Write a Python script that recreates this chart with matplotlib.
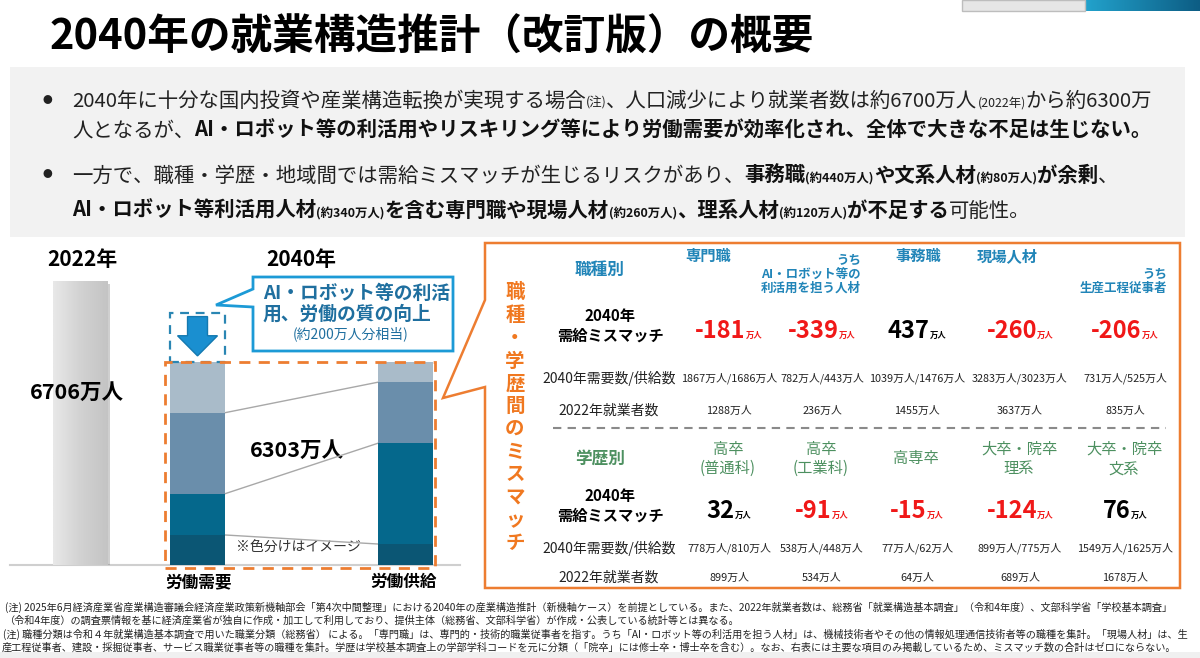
import matplotlib
matplotlib.use('Agg')
import matplotlib.pyplot as plt
import matplotlib.patches as mpatches
import matplotlib.patheffects as pe
from matplotlib.colors import LinearSegmentedColormap
import numpy as np

plt.rcParams['font.family'] = ['Noto Sans CJK JP', 'DejaVu Sans']

# ---- データ ----
title = "2040年の就業構造推計（改訂版）の概要"
employed_2022 = 6706
employed_2040 = 6303
# 2040年の棒は模式図（※色分けはイメージ）: 下から順の区分の見た目の高さ
demand_image = [710, 970, 1915, 1205]
supply_image = [495, 2385, 1440, 470]
saving_image = 1160  # AI・ロボット等による効率化（約200万人分相当）の枠

job_heads = ["専門職", "うち\nAI・ロボット等の\n利活用を担う人材", "事務職", "現場人材", "うち\n生産工程従事者"]
job_gap = [-181, -339, 437, -260, -206]
job_demand = [1867, 782, 1039, 3283, 731]
job_supply = [1686, 443, 1476, 3023, 525]
job_2022 = [1288, 236, 1455, 3637, 835]

edu_heads = ["高卒\n(普通科)", "高卒\n(工業科)", "高専卒", "大卒・院卒\n理系", "大卒・院卒\n文系"]
edu_gap = [32, -91, -15, -124, 76]
edu_demand = [778, 538, 77, 899, 1549]
edu_supply = [810, 448, 62, 775, 1625]
edu_2022 = [899, 534, 64, 689, 1678]

notes = [
    "(注) 2025年6月経済産業省産業構造審議会経済産業政策新機軸部会「第4次中間整理」における2040年の産業構造推計（新機軸ケース）を前提としている。また、2022年就業者数は、総務省「就業構造基本調査」（令和4年度）、文部科学省「学校基本調査」",
    "（令和4年度）の調査票情報を基に経済産業省が独自に作成・加工して利用しており、提供主体（総務省、文部科学省）が作成・公表している統計等とは異なる。",
    "(注) 職種分類は令和４年就業構造基本調査で用いた職業分類（総務省） による。「専門職」は、専門的・技術的職業従事者を指す。うち「AI・ロボット等の利活用を担う人材」は、機械技術者やその他の情報処理通信技術者等の職種を集計。「現場人材」は、生",
    "産工程従事者、建設・採掘従事者、サービス職業従事者等の職種を集計。学歴は学校基本調査上の学部学科コードを元に分類（「院卒」には修士卒・博士卒を含む）。なお、右表には主要な項目のみ掲載しているため、ミスマッチ数の合計はゼロにならない。",
]

BLUE = '#2185b8'
GREEN = '#4d9060'
RED = '#f01818'
ORANGE = '#ed7d31'
segs = ['#0b5674', '#05688c', '#6a8eab', '#a9bbc9']

fig = plt.figure(figsize=(12, 6.58), dpi=100)
bg = fig.add_axes([0, 0, 1, 1])
bg.set_xlim(0, 1200)
bg.set_ylim(658, 0)
bg.axis('off')
R = fig.canvas.get_renderer()


def runs(x, y, parts, ha='left', width=None, scale=1.0, **common):
    # 書式の違う文字列を横に並べる
    ts = []
    for s, kw in parts:
        d = dict(common)
        d.update(kw)
        d['fontsize'] = d.get('fontsize', 10) * scale
        ts.append(bg.text(x, y, s, va='baseline', ha='left', **d))
    w = [t.get_window_extent(R).width for t in ts]
    f = 1.0
    if width:
        f = width / sum(w)
        for t in ts:
            t.set_fontsize(t.get_fontsize() * f)
        w = [t.get_window_extent(R).width for t in ts]
    total = sum(w)
    x0 = {'left': x, 'center': x - total / 2, 'right': x - total}[ha]
    for t, wi in zip(ts, w):
        t.set_x(x0)
        x0 += wi
    return f * scale


# 背景の飾り
bg.add_patch(mpatches.Rectangle((962, 0), 123, 11, fc='#e6e6e6', ec='#bdbdbd', lw=1))
grad = np.linspace(0, 1, 100)[None, :]
bg.imshow(grad, extent=[1085, 1200, 11, 0], aspect='auto',
          cmap=LinearSegmentedColormap.from_list('t', ['#22a2cc', '#0d5d84']))
bg.set_xlim(0, 1200)
bg.set_ylim(658, 0)
bg.add_patch(mpatches.Rectangle((10, 67), 1175, 170, fc='#f2f2f2', ec='none'))
bg.add_patch(mpatches.Rectangle((0, 652), 1200, 6, fc='#f0f0f0', ec='none'))

bg.text(50, 38, title, fontsize=30, fontweight='bold', va='center', ha='left', color='black')

# 箇条書き
N = dict(fontsize=14, color='#222222')
S = dict(fontsize=8.5, color='#222222')
B = dict(fontsize=14, fontweight='bold', color='#111111')
SB = dict(fontsize=8.5, fontweight='bold', color='#111111')
for yy in (100, 174):
    bg.text(47, yy, "●", fontsize=7, va='center', ha='center', color='#222222')
k = runs(72, 107, [("2040年に十分な国内投資や産業構造転換が実現する場合", N), ("(注)", S),
                   ("、人口減少により就業者数は約6700万人", N), ("(2022年)", S), ("から約6300万", N)],
         width=1085)
runs(72, 137, [("人となるが、", N),
               ("AI・ロボット等の利活用やリスキリング等により労働需要が効率化され、全体で大きな不足は生じない。", B)], scale=k)
runs(72, 182, [("一方で、職種・学歴・地域間では需給ミスマッチが生じるリスクがあり、", N), ("事務職", B), ("(約440万人)", SB),
               ("や文系人材", B), ("(約80万人)", SB), ("が余剰", B), ("、", N)], scale=k)
runs(72, 217, [("AI・ロボット等利活用人材", B), ("(約340万人)", SB), ("を含む専門職や現場人材", B), ("(約260万人)", SB),
               ("、理系人材", B), ("(約120万人)", SB), ("が不足する", B), ("可能性。", N)], scale=k)

# ---- 左: 棒グラフ ----
bx = fig.add_axes([10 / 1200, 93 / 658, 450 / 1200, 315 / 658])
bx.patch.set_visible(False)
xpos = [0, 1, 2.77]
w = 0.46
shadow = [pe.withSimplePatchShadow(offset=(2, -2), shadow_rgbFace='#777777', alpha=0.35), pe.Normal()]

b22 = bx.bar(xpos[0], employed_2022, w, color='#d8d8d8', zorder=2, path_effects=shadow)
im = bx.imshow(np.linspace(0, 1, 50)[None, :], aspect='auto', zorder=3,
               extent=[xpos[0] - w / 2, xpos[0] + w / 2, 0, employed_2022],
               cmap=LinearSegmentedColormap.from_list('g', ['#e8e8e8', '#d2d2d2', '#c4c4c4']))
im.set_clip_path(b22[0])

bot_d = 0
bot_s = 0
for i in range(len(demand_image)):
    bx.bar(xpos[1], demand_image[i], w, bottom=bot_d, color=segs[i], zorder=2)
    bx.bar(xpos[2], supply_image[i], w, bottom=bot_s, color=segs[i], zorder=2)
    bot_d += demand_image[i]
    bot_s += supply_image[i]
cum_d = np.cumsum(demand_image)
cum_s = np.cumsum(supply_image)
for i in range(3):
    bx.plot([xpos[1] + w / 2, xpos[2] - w / 2], [cum_d[i], cum_s[i]], color='#a8a8a8', lw=1, zorder=1)

bx.set_xlim(-0.596, 3.234)
bx.set_ylim(0, 7440)
bx.axis('off')
bx.axhline(0, color='#cfcfcf', lw=1.5, clip_on=False, zorder=1)

# 効率化の枠と矢印
top_d = cum_d[-1]
bx.add_patch(mpatches.Rectangle((xpos[1] - w / 2, top_d), w, saving_image, fill=False,
                                ec='#2a86b3', lw=1.6, ls=(0, (4, 3)), zorder=3, clip_on=False))
cx = xpos[1]
yt = top_d + saving_image
arrow = [(cx - 0.085, yt - 0.08 * saving_image), (cx + 0.085, yt - 0.08 * saving_image),
         (cx + 0.085, yt - 0.47 * saving_image), (cx + 0.17, yt - 0.47 * saving_image),
         (cx, top_d + 0.12 * saving_image), (cx - 0.17, yt - 0.47 * saving_image),
         (cx - 0.085, yt - 0.47 * saving_image)]
bx.add_patch(mpatches.Polygon(arrow, closed=True, fc='#1a8fd0', ec='#1479b0', lw=1, zorder=4, clip_on=False))

# 2040年の棒を囲む橙の破線
ox0 = xpos[1] - w / 2 - 0.045
ox1 = xpos[2] + w / 2 + 0.025
top_all = max(cum_d[-1], cum_s[-1])
bx.add_patch(mpatches.Rectangle((ox0, -70), ox1 - ox0, top_all + 70, fill=False, ec=ORANGE,
                                lw=2, ls=(0, (4, 3)), zorder=5, clip_on=False))

bg.text(82, 259, "2022年", fontsize=15, fontweight='bold', ha='center', va='center')
bg.text(301, 259, "2040年", fontsize=15, fontweight='bold', ha='center', va='center')
# 棒の上に重ねるので bx 側に置く
bx.text(77, 392, f"{employed_2022}万人", transform=bg.transData, fontsize=15.5, fontweight='bold',
        ha='center', va='center', zorder=6, clip_on=False)
bg.text(297, 450, f"{employed_2040}万人", fontsize=15.5, fontweight='bold', ha='center', va='center')
bg.text(298, 548, "※色分けはイメージ", fontsize=10, ha='center', va='center', color='#333333')
bg.text(199, 582, "労働需要", fontsize=12, fontweight='bold', ha='center', va='center')
bg.text(404, 582, "労働供給", fontsize=12, fontweight='bold', ha='center', va='center')

# 吹き出し（AI・ロボット等）
bg.add_patch(mpatches.Polygon([(253, 277), (453, 277), (453, 351), (253, 351), (253, 307), (216, 305), (253, 289)],
                              closed=True, fc='white', ec='#1c9ad6', lw=2))
bg.text(263, 293, "AI・ロボット等の利活", fontsize=13.5, fontweight='bold', color='#1f6f9f', va='center')
bg.text(263, 314, "用、労働の質の向上", fontsize=13.5, fontweight='bold', color='#1f6f9f', va='center')
bg.text(351, 334, "(約200万人分相当)", fontsize=10, color='#1f6f9f', ha='center', va='center')

# ---- 右: ミスマッチ表 ----
bg.add_patch(mpatches.Polygon([(485, 243), (1180, 243), (1180, 588), (485, 588), (485, 387), (443, 398), (485, 300)],
                              closed=True, fc='white', ec=ORANGE, lw=1.8))
bg.text(515, 418, "\n".join("職種・学歴間のミスマッチ"), fontsize=14, fontweight='bold', color='#f07820',
        ha='center', va='center', linespacing=1.25)

col_x = [729, 822, 917, 1020, 1125]

bg.text(600, 270, "職種別", fontsize=12, fontweight='bold', color=BLUE, ha='center', va='center')
head_pos = [(708, 256, 'center'), (861, 274, 'right'), (918, 256, 'center'), (1007, 256, 'center'), (1167, 281, 'right')]
for h, (hx, hy, ha) in zip(job_heads, head_pos):
    fs = 11 if '\n' not in h else 9
    bg.text(hx, hy, h, fontsize=fs, fontweight='bold', color=BLUE, ha=ha, va='center',
            multialignment=ha, linespacing=1.1)

bg.text(600, 459, "学歴別", fontsize=12, fontweight='bold', color=GREEN, ha='center', va='center')
for h, hx in zip(edu_heads, col_x):
    bg.text(hx - 1, 459, h, fontsize=11, color=GREEN, ha='center', va='center', multialignment='center',
            linespacing=1.2)

for y_mis, y_dem, y_now, gap, dem, sup, now in [
        (326, 378, 411, job_gap, job_demand, job_supply, job_2022),
        (506, 548, 578, edu_gap, edu_demand, edu_supply, edu_2022)]:
    bg.text(610, y_mis, "2040年\n需給ミスマッチ", fontsize=11, fontweight='bold', ha='center', va='center',
            linespacing=1.25)
    bg.text(609, y_dem, "2040年需要数/供給数", fontsize=10, ha='center', va='center', color='#222222')
    bg.text(609, y_now, "2022年就業者数", fontsize=10, ha='center', va='center', color='#222222')
    for i, cxx in enumerate(col_x):
        c = RED if gap[i] < 0 else 'black'
        runs(cxx, y_mis + 12, [(f"{gap[i]}", dict(fontsize=17, fontweight='bold', color=c)),
                               ("万人", dict(fontsize=6, fontweight='bold', color=c))], ha='center')
        bg.text(cxx, y_dem, f"{dem[i]}万人/{sup[i]}万人", fontsize=7.8, ha='center', va='center', color='#222222')
        bg.text(cxx, y_now, f"{now[i]}万人", fontsize=7.8, ha='center', va='center', color='#222222')

bg.plot([553, 1166], [428, 428], color='#8a8a8a', lw=1.5, ls=(0, (4, 3)))

# ---- 注記 ----
NT = dict(fontsize=8, color='#222222')
kn = runs(3, 638, [(notes[2], NT)], width=1192)
runs(5, 611, [(notes[0], NT)], scale=kn)
runs(5, 624, [(notes[1], NT)], scale=kn)
runs(2, 651, [(notes[3], NT)], scale=kn)

fig.savefig('out.png', dpi=100)
